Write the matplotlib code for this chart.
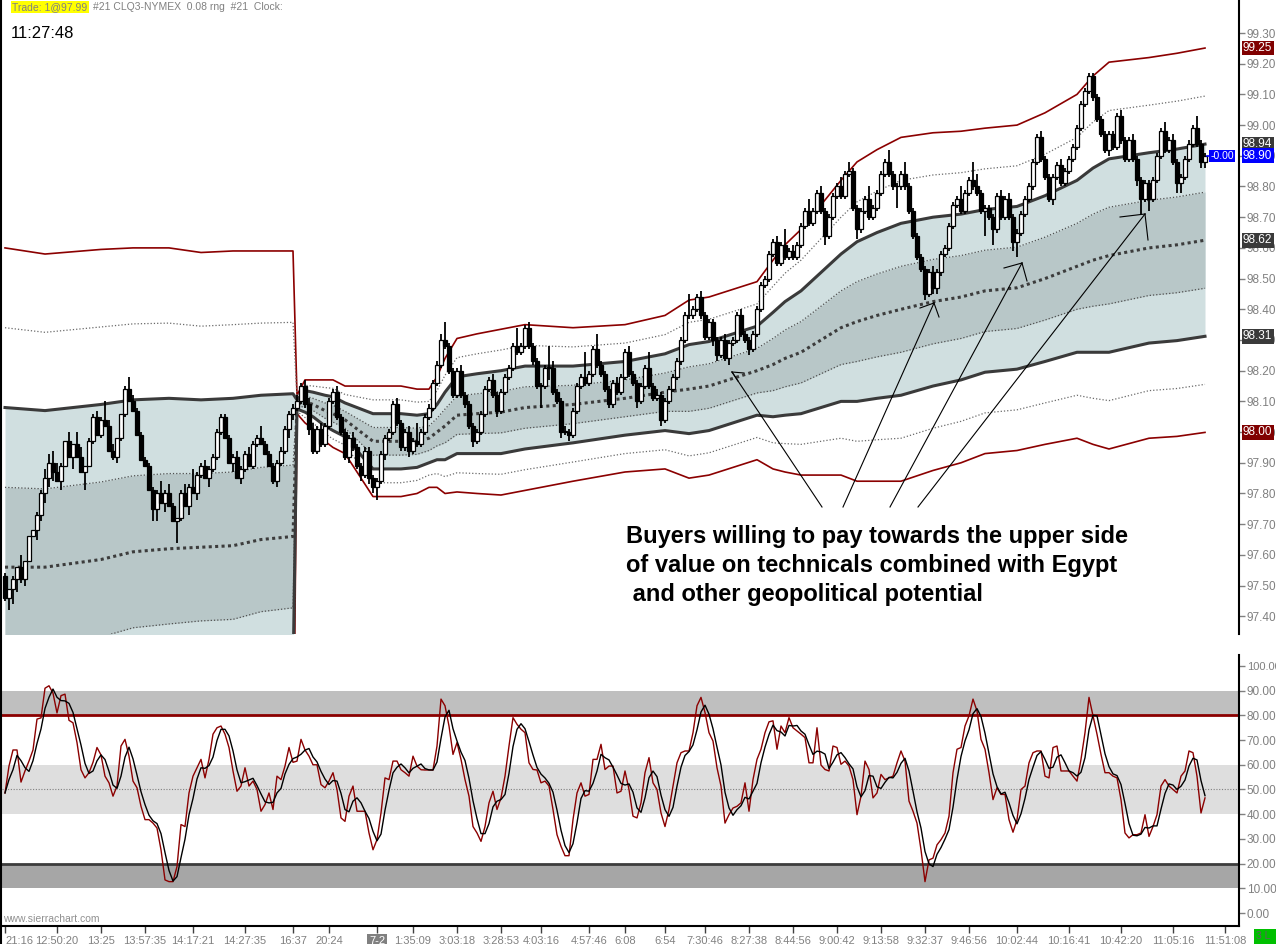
import numpy as np
import pandas as pd
import matplotlib
matplotlib.use('Agg')
import matplotlib.pyplot as plt
from matplotlib.patches import Rectangle
from matplotlib.lines import Line2D
import matplotlib.transforms as mtransforms

plt.rcParams['font.family'] = ['Liberation Sans', 'DejaVu Sans']

W, H = 1276, 944

# ---------------- price data (1 bar per candle) ----------------
FIRST_OPEN = 97.53
CLOSES = [
    97.46, 97.49, 97.52, 97.56, 97.52, 97.58, 97.66, 97.68, 97.73, 97.80,
    97.85, 97.90, 97.87, 97.84, 97.89, 97.97, 97.92, 97.96, 97.92, 97.87,
    97.89, 97.97, 98.05, 97.99, 98.04, 98.02, 97.94, 97.92, 97.98, 98.06,
    98.14, 98.10, 98.07, 97.99, 97.91, 97.89, 97.81, 97.75, 97.80, 97.77,
    97.80, 97.76, 97.71, 97.72, 97.80, 97.76, 97.82, 97.80, 97.86, 97.89,
    97.85, 97.88, 97.92, 98.00, 98.05, 97.98, 97.90, 97.92, 97.85, 97.88,
    97.93, 97.89, 97.96, 97.98, 97.96, 97.93, 97.89, 97.84, 97.90, 97.94,
    98.01, 98.06, 98.08, 98.10, 98.15, 98.09, 98.01, 97.94, 98.01, 97.96,
    98.02, 98.10, 98.13, 98.05, 98.00, 97.92, 97.98, 97.95, 97.89, 97.86,
    97.94, 97.85, 97.82, 97.84, 97.93, 97.98, 98.00, 98.09, 98.03, 97.95,
    98.00, 97.94, 97.97, 97.96, 98.00, 98.05, 98.08, 98.16, 98.22, 98.30,
    98.28, 98.20, 98.12, 98.20, 98.12, 98.09, 98.02, 97.97, 98.00, 98.06,
    98.14, 98.17, 98.12, 98.07, 98.13, 98.18, 98.21, 98.28, 98.26, 98.28,
    98.34, 98.28, 98.23, 98.15, 98.15, 98.21, 98.21, 98.13, 98.10, 98.00,
    98.00, 97.99, 98.07, 98.15, 98.18, 98.16, 98.19, 98.27, 98.22, 98.19,
    98.14, 98.09, 98.16, 98.13, 98.18, 98.26, 98.19, 98.16, 98.10, 98.15,
    98.21, 98.15, 98.11, 98.12, 98.04, 98.10, 98.14, 98.18, 98.23, 98.30,
    98.38, 98.38, 98.40, 98.44, 98.38, 98.31, 98.36, 98.30, 98.25, 98.30,
    98.24, 98.29, 98.30, 98.38, 98.32, 98.30, 98.27, 98.32, 98.40, 98.48,
    98.50, 98.58, 98.62, 98.55, 98.61, 98.57, 98.59, 98.57, 98.61, 98.67,
    98.72, 98.68, 98.72, 98.78, 98.72, 98.64, 98.70, 98.77, 98.80, 98.77,
    98.84, 98.85, 98.73, 98.66, 98.72, 98.76, 98.70, 98.73, 98.78, 98.84,
    98.88, 98.84, 98.80, 98.80, 98.84, 98.80, 98.72, 98.64, 98.57, 98.53,
    98.45, 98.52, 98.47, 98.52, 98.58, 98.60, 98.67, 98.74, 98.76, 98.72,
    98.78, 98.82, 98.80, 98.78, 98.72, 98.73, 98.70, 98.66, 98.77, 98.70,
    98.76, 98.70, 98.62, 98.65, 98.71, 98.76, 98.80, 98.88, 98.96, 98.89,
    98.83, 98.76, 98.83, 98.87, 98.81, 98.85, 98.89, 98.93, 98.99, 99.07,
    99.11, 99.16, 99.09, 99.02, 98.97, 98.92, 98.97, 98.93, 99.03, 98.95,
    98.89, 98.95, 98.89, 98.82, 98.76, 98.81, 98.76, 98.82, 98.90, 98.98,
    98.92, 98.95, 98.88, 98.81, 98.83, 98.89, 98.94, 98.99, 98.94, 98.88,
    98.90,
]
# wick lengths in ticks (0.01) above / below the candle body, one digit per bar
UPPER_WICK_TICKS = "".join([
    "1010400011", "3343103043", "0112162200", "1421111114", "1310131611",
    "2111111121", "1211411111", "1112122212", "1112111211", "1111111121",
    "1216111112", "6111211111", "1121111161", "1211117211", "2111181151",
    "1112112111", "1512111111", "1711211111", "2111211111", "1112151211",
    "1411211113", "1311114111", "1411141111", "1121111114", "1164111112",
    "1211111112", "1111211111", "1111111112", "1121111111", "3121111141",
    "1"])
LOWER_WICK_TICKS = "".join([
    "1454120032", "3330300400", "6010100121", "1000000440", "3007103021",
    "0311100302", "1011000121", "1321112111", "1111112112", "1224121111",
    "1211111111", "1111111211", "1112111111", "1111714112", "1211111111",
    "1111111121", "1111211111", "1111111221", "1211112111", "1111111111",
    "1111131111", "1113111111", "1117111111", "2122111111", "1111181511",
    "1135111111", "1121111111", "1111112111", "1112514111", "1113311112",
    "2"])
TICK = 0.01

# ---------------- VWAP and standard deviation (sampled bars) ----------------
BAND_IDX = [0, 10, 24, 32, 41, 49, 57, 64, 72,
            73, 75, 77, 80, 82, 85, 88, 92, 96, 99,
            103, 106, 108, 110, 113, 118, 124, 130, 142, 155,
            165, 171, 176, 182, 188, 192, 195, 199, 204, 209,
            213, 218, 224, 232, 239, 245, 253, 260, 268, 272,
            276, 286, 293, 300]
VWAP = [97.56, 97.56, 97.585, 97.61, 97.62, 97.625, 97.63, 97.65, 97.66,
        98.09, 98.10, 98.09, 98.07, 98.06, 98.04, 98.01, 97.97, 97.97, 97.97,
        97.97, 97.98, 98.00, 98.02, 98.055, 98.06, 98.065, 98.08, 98.09, 98.11,
        98.13, 98.14, 98.15, 98.175, 98.20, 98.22, 98.24, 98.26, 98.30, 98.34,
        98.36, 98.38, 98.40, 98.425, 98.44, 98.46, 98.47, 98.50, 98.54, 98.56,
        98.575, 98.60, 98.61, 98.625]
SD = [0.52, 0.51, 0.505, 0.495, 0.49, 0.48, 0.48, 0.47, 0.465,
      0.015, 0.035, 0.04, 0.05, 0.055, 0.055, 0.07, 0.09, 0.09, 0.09,
      0.085, 0.08, 0.09, 0.11, 0.125, 0.13, 0.135, 0.135, 0.125, 0.12,
      0.125, 0.145, 0.145, 0.145, 0.145, 0.17, 0.185, 0.20, 0.22, 0.24,
      0.26, 0.27, 0.28, 0.275, 0.27, 0.265, 0.265, 0.27, 0.28, 0.30,
      0.315, 0.31, 0.312, 0.313]

# ---------------- stochastic %K ----------------
STOCH_K = [
    48.6, 59.5, 66, 66, 53, 57.5, 61.5, 66, 78.5, 79,
    91, 92, 89, 81, 88, 88.6, 78, 77, 69, 58,
    54.7, 56.8, 61, 67, 64, 55.4, 52.7, 47.3, 51.4, 67.6,
    70.3, 63.5, 53.4, 50.7, 43.2, 37.8, 37.8, 36.4, 34.4, 25.6,
    13.4, 12.7, 12.7, 18.8, 35.8, 35, 48.6, 55.4, 58.8, 62.2,
    54.7, 62.2, 72.4, 75, 75.7, 72.4, 67, 57.5, 49.3, 51.4,
    58.8, 51.4, 53.4, 50, 41.2, 43.9, 48.6, 41.9, 55.4, 54,
    59.5, 67, 61, 61.5, 70.3, 66, 63.5, 60, 60, 52,
    50.7, 53.4, 56.8, 50, 38.5, 37.1, 47.3, 51.4, 41.2, 41.2,
    41.2, 32.4, 25.6, 29.7, 40.5, 54.7, 54, 61.5, 61.5, 58,
    56.8, 55.4, 63.5, 59.5, 58, 57.9, 57.9, 57.9, 67.6, 86.6,
    83.9, 75.7, 64.2, 69, 62.2, 54, 47.3, 35, 32.4, 29,
    35, 44.6, 49.3, 41.9, 46.6, 55.4, 67.6, 79.1, 76.4, 74.4,
    73, 60.8, 58.1, 57.9, 52.7, 53.4, 51.4, 41.9, 31.7, 27,
    23.2, 23.2, 37.8, 48.6, 52.7, 47.3, 48, 62.2, 62.2, 68.3,
    58.1, 59.5, 59.5, 48.6, 49.3, 57.5, 50, 39.2, 38.5, 44.6,
    56.8, 62.9, 52.7, 50, 40.5, 35, 41.9, 51.4, 60.8, 64.9,
    65.6, 65.6, 73, 83.9, 87.3, 81.2, 73, 69.6, 58.8, 51.4,
    36.4, 39.8, 42.5, 43.2, 44.6, 52.7, 41.2, 54, 62.2, 66.3,
    73, 77.4, 77.8, 66.3, 75.7, 73, 79.1, 75, 73.7, 72.4,
    71, 60.8, 60.8, 75, 59.9, 58.1, 57.5, 67.6, 67, 60.2,
    61.5, 59.5, 54, 39.8, 47.3, 61.5, 58.1, 46.6, 48.6, 56.1,
    54, 54.7, 55.4, 60.8, 65.6, 61.5, 45.3, 41.2, 36.4, 25.6,
    12.7, 21.5, 22.2, 27.6, 29.7, 32.4, 39.2, 56.8, 66.3, 67,
    75.7, 79.8, 86.6, 81.8, 70.3, 66.3, 56.8, 45.9, 50.7, 48,
    48, 37.8, 32.7, 37.8, 50, 51.4, 60.8, 64.9, 65.6, 65.6,
    55.4, 54.7, 67, 67.6, 57.5, 57.5, 57.5, 55.4, 53.4, 62.2,
    73, 87.3, 79.8, 72.4, 64.2, 56.8, 56.8, 55.4, 54.7, 45.9,
    32.4, 30.4, 31.7, 31.7, 32.4, 39.8, 31, 35, 39.8, 51.4,
    54, 51.4, 50, 48.6, 55.4, 57.5, 65.6, 64.9, 55.4, 40.5,
    46.6,
]

PRICE_TICKS = [97.40, 97.50, 97.60, 97.70, 97.80, 97.90, 98.00, 98.10, 98.20,
               98.30, 98.40, 98.50, 98.60, 98.70, 98.80, 98.90, 99.00, 99.10,
               99.20, 99.30]
STOCH_TICKS = [0, 10, 20, 30, 40, 50, 60, 70, 80, 90, 100]
TIME_TICK_IDX = [0, 13, 24, 35, 47, 60, 72, 81, 93, 102, 113, 124, 134, 146,
                 155, 165, 175, 186, 197, 208, 219, 230, 241, 253, 266, 279,
                 292, 305]
TIME_LABELS = ['21:16', '12:50:20', '13:25', '13:57:35', '14:17:21', '14:27:35',
               '16:37', '20:24', '7-2', '1:35:09', '3:03:18', '3:28:53',
               '4:03:16', '4:57:46', '6:08', '6:54', '7:30:46', '8:27:38',
               '8:44:56', '9:00:42', '9:13:58', '9:32:37', '9:46:56',
               '10:02:44', '10:16:41', '10:42:20', '11:05:16', '11:51:08']

NOTE = ("Buyers willing to pay towards the upper side\n"
        "of value on technicals combined with Egypt\n"
        " and other geopolitical potential")

# ---------------- figure ----------------
fig = plt.figure(figsize=(W / 100, H / 100), dpi=100)
fig.patch.set_facecolor('white')


def fx(x):
    return x / W


def fy(y):
    return 1 - y / H


ax1 = fig.add_axes([fx(2), fy(634), (1239 - 2) / W, 634 / H])
ax2 = fig.add_axes([fx(2), fy(926), (1239 - 2) / W, (926 - 655) / H])

n = len(CLOSES)
idx = np.arange(n)
C = np.array(CLOSES)
O = np.concatenate([[FIRST_OPEN], C[:-1]])
uw = np.array([int(ch) for ch in UPPER_WICK_TICKS[:n]]) * TICK
lw_ = np.array([int(ch) for ch in LOWER_WICK_TICKS[:n]]) * TICK
Hh = np.maximum(O, C) + uw
Ll = np.minimum(O, C) - lw_

bidx = np.array(BAND_IDX, dtype=float)
vw = np.array(VWAP)
sd = np.array(SD)

LIGHT = '#d0dfe0'
DARK = '#b8c7c8'
ax1.fill_between(bidx, vw - sd, vw + sd, color=LIGHT, lw=0, zorder=1)
ax1.fill_between(bidx, vw - 0.5 * sd, vw + 0.5 * sd, color=DARK, lw=0, zorder=1.1)

for s in (1, -1):
    ax1.plot(bidx, vw + s * 2.0 * sd, color='#8b0000', lw=1.2, zorder=2)
    ax1.plot(bidx, vw + s * 1.5 * sd, color='#6a6a6a', lw=0.9, ls=(0, (1, 1.6)), zorder=2)
    ax1.plot(bidx, vw + s * 1.0 * sd, color='#3a3a3a', lw=2.2, zorder=2.2)
    ax1.plot(bidx, vw + s * 0.5 * sd, color='#505050', lw=0.9, ls=(0, (1, 1.6)), zorder=2)
ax1.plot(bidx, vw, color='#3c3c3c', lw=2.2, ls=(0, (1, 1.1)), zorder=2.1)

# candles
up = C >= O
ax1.vlines(idx, Ll, Hh, color='black', lw=1.3, zorder=3)
body_h = np.maximum(np.abs(C - O), 0.003)
ax1.bar(idx, body_h, bottom=np.minimum(O, C), width=0.78,
        color=np.where(up, 'white', 'black'), edgecolor='black',
        linewidth=0.9, zorder=4)

ax1.set_xlim(-0.75, 308.5)
ax1.set_ylim(97.3423, 99.4075)
ax1.set_facecolor('none')
ax1.yaxis.tick_right()
ax1.set_yticks(PRICE_TICKS)
ax1.set_yticklabels([f'{v:.2f}' for v in PRICE_TICKS])
ax1.tick_params(axis='y', direction='out', length=4, width=1, colors='#808080',
                labelsize=8.5, pad=1.5)
ax1.set_xticks([])
for sp in ('left', 'top', 'bottom'):
    ax1.spines[sp].set_visible(False)
ax1.spines['right'].set_color('black')
ax1.spines['right'].set_linewidth(1.5)

blend1 = mtransforms.blended_transform_factory(ax1.transAxes, ax1.transData)


def axis_label(val, bg, fg='white'):
    ax1.text(1.0032, val, f'{val:.2f}', transform=blend1, ha='left', va='center',
             fontsize=8.5, color=fg, clip_on=False, zorder=20,
             bbox=dict(boxstyle='square,pad=0.12', fc=bg, ec='none'))


axis_label(vw[-1] + 2 * sd[-1], '#800000')
axis_label(vw[-1] + sd[-1], '#3a3a3a')
axis_label(C[-1], '#0000ff')
axis_label(vw[-1], '#3a3a3a')
axis_label(vw[-1] - sd[-1], '#3a3a3a')
axis_label(vw[-1] - 2 * sd[-1], '#800000')

# last price marker
ax1.plot([idx[-1] + 0.4, idx[-1] + 1.4], [C[-1], C[-1]], color='#0000ff', lw=1.2, zorder=5)
ax1.text(idx[-1] + 1.4, C[-1], '-0.00', ha='left', va='center', fontsize=7.5,
         color='white', zorder=6, bbox=dict(boxstyle='square,pad=0.12', fc='#0000ff', ec='none'))

# ---------------- stochastic panel ----------------
K = np.array(STOCH_K)
D = pd.Series(K).rolling(3, min_periods=1).mean().to_numpy()

ax2.axhspan(80, 90, color='#bfbfbf', lw=0, zorder=0)
ax2.axhspan(40, 60, color='#dedede', lw=0, zorder=0)
ax2.axhspan(10, 20, color='#a6a6a6', lw=0, zorder=0)
ax2.axhline(80, color='#8b0000', lw=2, zorder=1)
ax2.axhline(20, color='#3c3c3c', lw=2, zorder=1)
ax2.axhline(50, color='#808080', lw=0.8, ls=(0, (1, 1.5)), zorder=1)
ax2.plot(idx, K, color='#8b0000', lw=1.0, zorder=3)
ax2.plot(idx, D, color='black', lw=1.0, zorder=4)

ax2.set_xlim(-0.75, 308.5)
ax2.set_ylim(-5.26, 104.45)
ax2.set_facecolor('none')
ax2.yaxis.tick_right()
ax2.set_yticks(STOCH_TICKS)
ax2.set_yticklabels([f'{v:.2f}' for v in STOCH_TICKS])
ax2.tick_params(axis='y', direction='out', length=4, width=1, colors='#808080',
                labelsize=8.5, pad=1.5)
ax2.set_xticks(TIME_TICK_IDX)
ax2.set_xticklabels(TIME_LABELS)
ax2.tick_params(axis='x', direction='out', length=5, width=1, colors='#404040',
                labelcolor='#808080', labelsize=8, pad=2)
for sp in ('left', 'top'):
    ax2.spines[sp].set_visible(False)
for sp in ('right', 'bottom'):
    ax2.spines[sp].set_color('black')
    ax2.spines[sp].set_linewidth(1.5)

xlabels = ax2.get_xticklabels()
xlabels[0].set_horizontalalignment('left')
lbl72 = xlabels[TIME_LABELS.index('7-2')]
lbl72.set_color('white')
lbl72.set_bbox(dict(boxstyle='square,pad=0.15', fc='#808080', ec='none'))
# the top label of the oscillator scale is clipped by the window edge in the original
ylabels2 = ax2.get_yticklabels()
ylabels2[-1].set_fontsize(8)

# ---------------- decorations ----------------
fig.add_artist(Line2D([fx(1), fx(1)], [fy(944), fy(0)], color='black', lw=1.5))

fig.text(fx(12), fy(7), 'Trade: 1@97.99', fontsize=7.5, color='#808080', va='center',
         ha='left', bbox=dict(boxstyle='square,pad=0.12', fc='#ffff00', ec='none'))
fig.text(fx(93), fy(7), '#21 CLQ3-NYMEX  0.08 rng  #21  Clock:', fontsize=7.5,
         color='#808080', va='center', ha='left')
fig.text(fx(11), fy(34), '11:27:48', fontsize=12, color='black', va='center', ha='left')

fig.text(fx(3), fy(919), 'www.sierrachart.com', fontsize=7.5, color='#909090',
         va='center', ha='left')
fig.add_artist(Rectangle((fx(1254), fy(944)), fx(1276) - fx(1254), 15 / H,
                         transform=fig.transFigure, fc='#00c000', ec='none'))
fig.text(fx(1256), fy(936), '3 L', fontsize=7.5, color='#606060', va='center', ha='left')

fig.text(fx(626), fy(525), NOTE, fontsize=17, fontweight='bold', color='black',
         va='top', ha='left', linespacing=1.33)

# hand-drawn arrows (pixel positions of the annotation strokes)
ARROWS = [
    [(822, 507), (732, 372)],
    [(732, 372), (744, 373)],
    [(732, 372), (738, 381)],
    [(843, 507), (934, 303)],
    [(934, 303), (920, 308)],
    [(934, 303), (939, 317)],
    [(890, 507), (1022, 263)],
    [(1022, 263), (1004, 268)],
    [(1022, 263), (1027, 281)],
    [(918, 507), (1145, 214)],
    [(1145, 214), (1120, 217)],
    [(1145, 214), (1148, 240)],
]
for (x0, y0), (x1, y1) in ARROWS:
    fig.add_artist(Line2D([fx(x0), fx(x1)], [fy(y0), fy(y1)], color='black', lw=0.8))

fig.savefig('out.png', dpi=100, facecolor='white')
